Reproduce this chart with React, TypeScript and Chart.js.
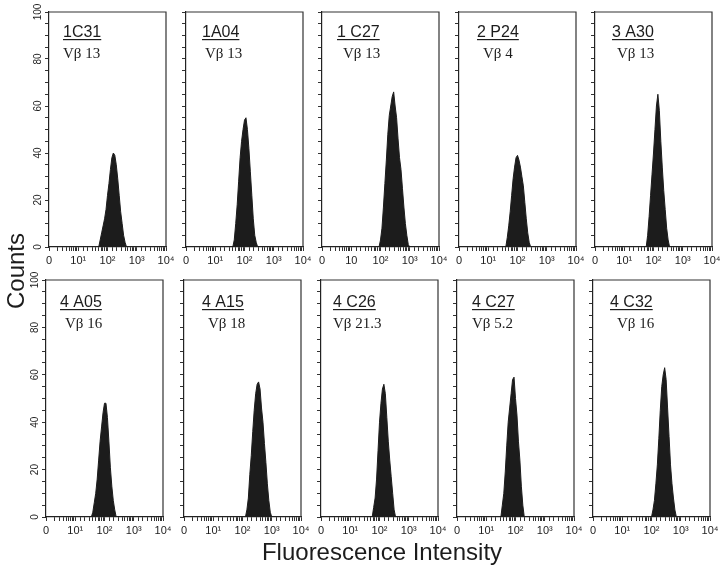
import React, { useEffect, useRef } from "react";
import { Chart, registerables } from "chart.js";

Chart.register(...registerables);

// ---------------- DATA ----------------
const BIN = 0.05; // histogram channel width, in decades of fluorescence

const PANEL_IDS = ["1C31", "1A04", "1 C27", "2 P24", "3 A30", "4 A05", "4 A15", "4 C26", "4 C27", "4 C32"];
const PANEL_VB = ["Vβ 13", "Vβ 13", "Vβ 13", "Vβ 4", "Vβ 13", "Vβ 16", "Vβ 18", "Vβ 21.3", "Vβ 5.2", "Vβ 16"];

// log10 position of the first channel of each histogram
const HIST_START = [1.7, 1.6, 1.95, 1.6, 1.75, 1.55, 2.1, 1.75, 1.5, 2.0];

const HIST_1C31 = [0, 3, 6, 9, 12, 16, 22, 27, 33, 38, 40, 39, 35, 29, 22, 15, 10, 5, 2, 0];
const HIST_1A04 = [0, 3, 10, 18, 28, 38, 45, 50, 54, 55, 50, 42, 32, 22, 12, 5, 2, 0];
const HIST_1C27 = [0, 3, 8, 17, 27, 37, 48, 56, 60, 64, 66, 60, 55, 46, 38, 33, 25, 17, 10, 5, 1, 0];
const HIST_2P24 = [0, 4, 9, 15, 22, 29, 34, 38, 39, 37, 34, 30, 26, 19, 12, 6, 2, 0];
const HIST_3A30 = [0, 5, 13, 22, 31, 40, 50, 60, 65, 58, 45, 34, 24, 16, 8, 3, 0];
const HIST_4A05 = [0, 2, 6, 10, 16, 24, 32, 38, 44, 48, 48, 42, 32, 21, 13, 7, 3, 0];
const HIST_4A15 = [0, 3, 8, 18, 26, 36, 45, 52, 56, 57, 54, 46, 40, 31, 23, 14, 7, 2, 0];
const HIST_4C26 = [0, 4, 8, 16, 28, 40, 48, 54, 56, 52, 42, 32, 24, 17, 10, 3, 0];
const HIST_4C27 = [0, 5, 10, 19, 30, 40, 46, 52, 58, 59, 50, 43, 32, 24, 13, 5, 0];
const HIST_4C32 = [0, 3, 7, 14, 22, 33, 45, 55, 60, 63, 58, 46, 34, 22, 14, 8, 3, 0];

const HISTS = [HIST_1C31, HIST_1A04, HIST_1C27, HIST_2P24, HIST_3A30, HIST_4A05, HIST_4A15, HIST_4C26, HIST_4C27, HIST_4C32];

const Y_MIN = 0;
const Y_MAX = 100;
const Y_STEP = 5;
const Y_LABEL_EVERY = 20;

const X_MIN = 1;
const X_MAX = 10000;
const X_TICK_LABELS = ["0", "10¹", "10²", "10³", "10⁴"];
const X_TICK_LABELS_ALT = ["0", "10", "10²", "10³", "10⁴"];
const X_LABELS_FOR_PANEL = [0, 0, 1, 0, 0, 0, 0, 0, 0, 0];

const Y_TITLE = "Counts";
const X_TITLE = "Fluorescence Intensity";

// ---------------- LAYOUT ----------------
const LEFTS_TOP = [49, 186, 322, 459, 595];
const LEFTS_BOTTOM = [46, 184, 321, 457, 593];
const ROW_TOP = [12, 280];
const ROW_BOTTOM = [247, 517];
const PLOT_W = 117;
const AXIS_W = 45;
const AXIS_H = 28;
const PAD_T = 12;
const PAD_R = 14;

// label offsets inside each panel
const ID_X = [14, 16, 15, 18, 17, 14, 18, 12, 15, 17];
const VB_X = [14, 19, 21, 24, 22, 19, 24, 12, 15, 24];
const ID_Y = [25, 27];
const VB_Y = [46, 48];

const INK = "#1c1c1c";
const SANS = "'Liberation Sans', Arial, sans-serif";
const SERIF = "'Liberation Serif', 'Times New Roman', serif";

function Panel({ idx }: { idx: number }) {
  const ref = useRef<HTMLCanvasElement | null>(null);
  const row = idx < 5 ? 0 : 1;
  const col = idx % 5;
  const plotLeft = row === 0 ? LEFTS_TOP[col] : LEFTS_BOTTOM[col];
  const plotTop = ROW_TOP[row];
  const plotH = ROW_BOTTOM[row] - ROW_TOP[row];
  const w = AXIS_W + PLOT_W + PAD_R;
  const h = PAD_T + plotH + AXIS_H;

  useEffect(() => {
    if (!ref.current) return;
    const counts = HISTS[idx];
    const start = HIST_START[idx];
    const data = counts.map((c, i) => ({ x: Math.pow(10, start + i * BIN), y: c }));
    const xLabels = X_LABELS_FOR_PANEL[idx] === 1 ? X_TICK_LABELS_ALT : X_TICK_LABELS;
    const firstCol = col === 0;

    const framePlugin = {
      id: "frame",
      afterDraw(chart: any) {
        const { left, top, right, bottom } = chart.chartArea;
        const ctx = chart.ctx;
        ctx.save();
        ctx.strokeStyle = "#333";
        ctx.lineWidth = 1.2;
        ctx.beginPath();
        ctx.moveTo(left, top);
        ctx.lineTo(right, top);
        ctx.lineTo(right, bottom);
        ctx.stroke();
        ctx.restore();
      },
    };

    const labelPlugin = {
      id: "panelLabels",
      afterDraw(chart: any) {
        const { left, top } = chart.chartArea;
        const ctx = chart.ctx;
        ctx.save();
        ctx.fillStyle = INK;
        ctx.textAlign = "left";
        ctx.textBaseline = "alphabetic";
        ctx.font = `16px ${SANS}`;
        const ix = left + ID_X[idx];
        const iy = top + ID_Y[row];
        ctx.fillText(PANEL_IDS[idx], ix, iy);
        const tw = ctx.measureText(PANEL_IDS[idx]).width;
        ctx.fillRect(ix, iy + 2, tw, 1.2);
        ctx.font = `15px ${SERIF}`;
        ctx.fillText(PANEL_VB[idx], left + VB_X[idx], top + VB_Y[row]);
        ctx.restore();
      },
    };

    const chart = new Chart(ref.current, {
      type: "line",
      data: {
        datasets: [
          {
            data,
            fill: "origin",
            backgroundColor: INK,
            borderColor: INK,
            borderWidth: 1,
            pointRadius: 0,
            tension: 0,
          },
        ],
      },
      options: {
        animation: false,
        responsive: true,
        maintainAspectRatio: false,
        events: [],
        layout: { padding: { top: PAD_T, right: PAD_R, left: 0, bottom: 0 } },
        plugins: { legend: { display: false }, tooltip: { enabled: false }, title: { display: false } },
        scales: {
          x: {
            type: "logarithmic",
            min: X_MIN,
            max: X_MAX,
            position: "bottom",
            grid: { drawOnChartArea: false, drawTicks: true, tickLength: 4, color: "#333", tickColor: "#333", tickWidth: 1 },
            border: { display: true, color: "#222", width: 1.2 },
            ticks: {
              autoSkip: false,
              maxRotation: 0,
              minRotation: 0,
              padding: 3,
              color: INK,
              font: { family: SANS, size: 11 },
              callback: (value: any) => {
                const v = Number(value);
                const l = Math.log10(v);
                const r = Math.round(l);
                if (Math.abs(l - r) < 1e-6) return xLabels[r];
                return "";
              },
            },
            afterFit: (s: any) => {
              s.height = AXIS_H;
            },
          },
          y: {
            type: "linear",
            min: Y_MIN,
            max: Y_MAX,
            position: "left",
            grid: { drawOnChartArea: false, drawTicks: true, tickLength: 4, color: "#333", tickColor: "#333", tickWidth: 1 },
            border: { display: true, color: "#222", width: 1.2 },
            ticks: {
              stepSize: Y_STEP,
              autoSkip: false,
              minRotation: 90,
              maxRotation: 90,
              crossAlign: "center",
              padding: -2,
              color: INK,
              font: { family: SANS, size: 10 },
              callback: (value: any) => {
                const v = Number(value);
                return firstCol && v % Y_LABEL_EVERY === 0 ? String(v) : "";
              },
            },
            afterFit: (s: any) => {
              s.width = AXIS_W;
            },
          },
        },
      } as any,
      plugins: [framePlugin, labelPlugin],
    });
    return () => chart.destroy();
  }, [idx]);

  return (
    <div
      style={{
        position: "absolute",
        left: plotLeft - AXIS_W,
        top: plotTop - PAD_T,
        width: w,
        height: h,
      }}
    >
      <canvas ref={ref} />
    </div>
  );
}

export default function App() {
  return (
    <div
      style={{
        position: "absolute",
        left: 0,
        top: 0,
        width: 720,
        height: 572,
        background: "#fff",
        overflow: "hidden",
        fontFamily: SANS,
      }}
    >
      {PANEL_IDS.map((_, i) => (
        <Panel key={i} idx={i} />
      ))}
      <div
        style={{
          position: "absolute",
          left: 15.5 - 60,
          top: 271 - 12,
          width: 120,
          height: 24,
          lineHeight: "24px",
          fontSize: 24,
          color: INK,
          textAlign: "center",
          transform: "rotate(-90deg)",
          whiteSpace: "nowrap",
        }}
      >
        {Y_TITLE}
      </div>
      <div
        style={{
          position: "absolute",
          left: 382 - 150,
          top: 540,
          width: 300,
          height: 24,
          lineHeight: "24px",
          fontSize: 24,
          color: INK,
          textAlign: "center",
          whiteSpace: "nowrap",
        }}
      >
        {X_TITLE}
      </div>
    </div>
  );
}
